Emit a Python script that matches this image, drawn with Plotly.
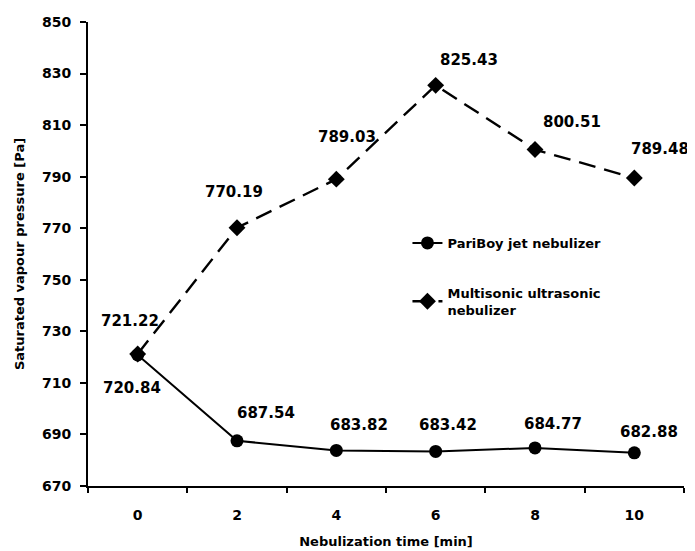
import plotly.graph_objects as go

times = [0, 2, 4, 6, 8, 10]
pariboy = [720.84, 687.54, 683.82, 683.42, 684.77, 682.88]
multisonic = [721.22, 770.19, 789.03, 825.43, 800.51, 789.48]
pariboy_name = "PariBoy jet nebulizer"
multisonic_name = "Multisonic ultrasonic<br>nebulizer"

# label offsets in pixels (dx, dy); positive dy = up
pari_off = [(-6, -33), (29, 28), (23, 25), (12, 26), (18, 24), (15, 21)]
multi_off = [(-8, 33), (-3, 36), (11, 42), (33, 25), (37, 28), (26, 29)]

font = "DejaVu Sans, Liberation Sans, Arial, sans-serif"

fig = go.Figure()
fig.add_trace(go.Scatter(
    x=times, y=pariboy, name=pariboy_name, mode="lines+markers", legendgroup="a",
    line=dict(color="black", width=2),
    marker=dict(symbol="circle", size=13, color="black"),
))
fig.add_trace(go.Scatter(
    x=times, y=multisonic, name=multisonic_name, mode="lines+markers", legendgroup="b",
    line=dict(color="black", width=2.4, dash="17px,9px"),
    marker=dict(symbol="diamond", size=13, color="black"),
))

for t, v, (dx, dy) in zip(times, pariboy, pari_off):
    fig.add_annotation(x=t, y=v, text=f"{v:.2f}", showarrow=False,
                       xshift=dx, yshift=dy,
                       font=dict(family=font, size=15, color="black", weight="bold"))
for t, v, (dx, dy) in zip(times, multisonic, multi_off):
    fig.add_annotation(x=t, y=v, text=f"{v:.2f}", showarrow=False,
                       xshift=dx, yshift=dy,
                       font=dict(family=font, size=15, color="black", weight="bold"))

fig.update_layout(
    width=687, height=543,
    margin=dict(l=80, r=11, t=14, b=65),
    paper_bgcolor="white", plot_bgcolor="white",
    font=dict(family=font, color="black", size=13),
    legend=dict(x=0.536, y=0.556, xanchor="left", yanchor="top",
                bgcolor="rgba(0,0,0,0)", tracegroupgap=30,
                font=dict(family=font, size=13, color="black", weight="bold")),
    showlegend=True,
)
fig.update_xaxes(
    range=[-1, 11], tickmode="array", tickvals=times, automargin=False,
    ticktext=[str(t) for t in times], ticks="", showgrid=False, zeroline=False,
    showline=True, linecolor="black", linewidth=2, ticklabelstandoff=15,
    tickfont=dict(family=font, size=14, color="black", weight="bold"),
    minor=dict(tickmode="array", tickvals=[-1, 1, 3, 5, 7, 9, 11], ticks="outside",
               ticklen=5, tickwidth=2, tickcolor="black", showgrid=False),
    title=dict(text="Nebulization time [min]", standoff=15,
               font=dict(family=font, size=13, color="black", weight="bold")),
)
fig.update_yaxes(
    range=[670, 850], dtick=20, tick0=670, ticks="outside", ticklen=6, tickwidth=2,
    tickcolor="black", showgrid=False, zeroline=False, ticklabelstandoff=6,
    showline=True, linecolor="black", linewidth=2, automargin=False,
    tickfont=dict(family=font, size=14, color="black", weight="bold"),
    title=dict(text="Saturated vapour pressure [Pa]", standoff=14,
               font=dict(family=font, size=13, color="black", weight="bold")),
)

fig.write_html("out.html")
